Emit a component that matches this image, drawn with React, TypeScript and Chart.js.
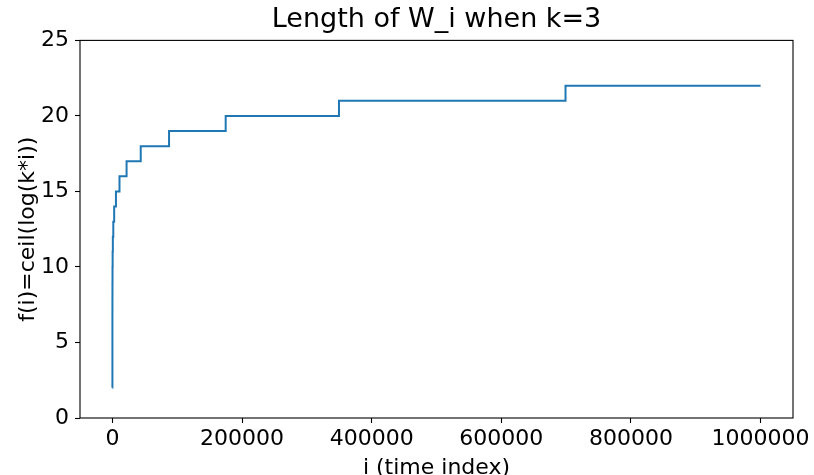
import React, { useEffect, useRef } from "react";
import { Chart, registerables } from "chart.js";

Chart.register(...registerables);

const TITLE = "Length of W_i when k=3";
const X_LABEL = "i (time index)";
const Y_LABEL = "f(i)=ceil(log(k*i))";

// i values where f(i) steps up to the next level
const stepStarts = [
  1, 2, 3, 6, 11, 22, 43, 86, 171, 342, 683, 1366, 2731, 5462, 10923, 21846,
  43691, 87382, 174763, 349526, 699051, 1000000,
];
const stepLevels = [
  2, 3, 4, 5, 6, 7, 8, 9, 10, 11, 12, 13, 14, 15, 16, 17, 18, 19, 20, 21, 22, 22,
];
const xTicks = [0, 200000, 400000, 600000, 800000, 1000000];
const yTicks = [0, 5, 10, 15, 20, 25];

const FONT = "'DejaVu Sans', sans-serif";

const framePlugin = {
  id: "frame",
  afterDatasetsDraw(chart: any) {
    const { ctx, chartArea } = chart;
    ctx.save();
    ctx.strokeStyle = "#000";
    ctx.lineWidth = 1.1;
    ctx.strokeRect(chartArea.left, chartArea.top, chartArea.right - chartArea.left, chartArea.bottom - chartArea.top);
    ctx.restore();
  },
};

export default function App() {
  const ref = useRef<HTMLCanvasElement>(null);
  useEffect(() => {
    if (!ref.current) return;
    const data = stepStarts.map((x, i) => ({ x, y: stepLevels[i] }));
    const chart = new Chart(ref.current, {
      type: "line",
      data: {
        datasets: [
          {
            data,
            borderColor: "#1f77b4",
            borderWidth: 2,
            pointRadius: 0,
            stepped: "before",
            fill: false,
          },
        ],
      },
      options: {
        animation: false,
        responsive: false,
        maintainAspectRatio: false,
        layout: { padding: { left: 0, right: 21, top: 0, bottom: 0 } },
        plugins: {
          legend: { display: false },
          tooltip: { enabled: false },
          title: {
            display: true,
            fullSize: false,
            text: TITLE,
            color: "#000",
            font: { family: FONT, size: 27, weight: "normal" },
            padding: { top: 4, bottom: 4 },
          },
        },
        scales: {
          x: {
            type: "linear",
            min: -50000,
            max: 1050000,
            afterBuildTicks: (s: any) => {
              s.ticks = xTicks.map((v) => ({ value: v }));
            },
            afterFit: (s: any) => {
              s.height = 57;
            },
            grid: { drawOnChartArea: false, tickLength: 5, tickColor: "#000", tickWidth: 1.1 },
            border: { display: false },
            ticks: {
              color: "#000",
              font: { family: FONT, size: 22 },
              padding: 3,
              maxRotation: 0,
              autoSkip: false,
              callback: (v: any) => String(v),
            },
            title: {
              display: true,
              text: X_LABEL,
              color: "#000",
              font: { family: FONT, size: 22 },
              padding: { top: 0, bottom: -6 },
            },
          },
          y: {
            type: "linear",
            min: 0,
            max: 25,
            afterBuildTicks: (s: any) => {
              s.ticks = yTicks.map((v) => ({ value: v }));
            },
            afterFit: (s: any) => {
              s.width = 80;
            },
            grid: { drawOnChartArea: false, tickLength: 5, tickColor: "#000", tickWidth: 1.1 },
            border: { display: false },
            ticks: {
              color: "#000",
              font: { family: FONT, size: 22 },
              padding: 6,
              autoSkip: false,
            },
            title: {
              display: true,
              text: Y_LABEL,
              color: "#000",
              font: { family: FONT, size: 22 },
              padding: { top: 15, bottom: 0 },
            },
          },
        },
      },
      plugins: [framePlugin],
    });
    return () => chart.destroy();
  }, []);
  return (
    <div style={{ position: "fixed", left: 0, top: 0, width: 814, height: 475, background: "#fff" }}>
      <canvas ref={ref} width={814} height={475} style={{ width: 814, height: 475 }} />
    </div>
  );
}
